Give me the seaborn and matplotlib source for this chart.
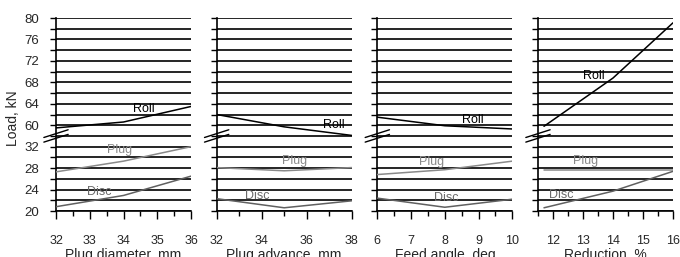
import matplotlib
matplotlib.use("Agg")
import matplotlib.pyplot as plt
from matplotlib.ticker import FixedLocator, FixedFormatter, MultipleLocator
import numpy as np
import pandas as pd
import seaborn as sns

# plug diameter, mm
dia_x = [32, 34, 36]
dia_roll = [59.5, 60.6, 63.5]
dia_plug = [27.3, 29.3, 32.0]
dia_disc = [20.8, 22.9, 26.5]

# plug advance, mm
adv_x = [32, 35, 38]
adv_roll = [62.0, 59.7, 58.1]
adv_plug = [28.1, 27.5, 28.1]
adv_disc = [22.3, 20.6, 21.9]

# feed angle, deg
ang_x = [6, 8, 10]
ang_roll = [61.5, 59.9, 59.3]
ang_plug = [26.8, 27.7, 29.3]
ang_disc = [22.4, 20.7, 22.2]

# reduction, %
red_x = [11.7, 14, 16]
red_roll = [59.8, 68.8, 79.1]
red_plug = [27.6, 27.6, 27.6]
red_disc = [20.6, 23.7, 27.4]

y_major = [20, 24, 28, 32, 60, 64, 68, 72, 76, 80]
y_minor = [22, 26, 30, 34, 62, 66, 70, 74, 78]

panels = [
    ("Plug diameter, mm", dia_x, dia_roll, dia_plug, dia_disc),
    ("Plug advance, mm", adv_x, adv_roll, adv_plug, adv_disc),
    ("Feed angle, deg", ang_x, ang_roll, ang_plug, ang_disc),
    ("Reduction, %", red_x, red_roll, red_plug, red_disc),
]
xlims = [(32, 36), (32, 38), (6, 10), (11.5, 16)]
xmajor = [1, 2, 1, 1]
xminor = [0.5, 1, 0.5, 0.5]
# label positions (x, y) for Roll, Plug, Disc
label_pos = [
    [(34.6, 63.0), (33.87, 31.3), (33.27, 23.5)],
    [(37.2, 60.0), (35.45, 29.4), (33.8, 22.8)],
    [(8.82, 61.0), (7.6, 29.1), (8.03, 22.4)],
    [(13.36, 69.1), (13.08, 29.4), (12.28, 23.0)],
]

colors = {"Roll": "black", "Plug": "#8a8a8a", "Disc": "#606060"}
text_colors = {"Roll": "black", "Plug": "#8a8a8a", "Disc": "#6a6a6a"}


# broken y axis: 34..58 kN squeezed out
def fwd(y):
    y = np.asarray(y, dtype=float)
    return np.where(y <= 34, y, np.where(y >= 58, y - 24, 34.0))


def inv(v):
    v = np.asarray(v, dtype=float)
    return np.where(v <= 34, v, v + 24)


sns.set_style("ticks")
plt.rcParams["font.family"] = ["Liberation Sans", "DejaVu Sans"]

fig, axes = plt.subplots(1, 4, figsize=(6.8, 2.57), dpi=100, sharey=True)
fig.subplots_adjust(left=56 / 680, right=673 / 680, bottom=1 - 211 / 257,
                    top=1 - 18 / 257, wspace=0.19)

for i, (ax, (xlabel, x, roll, plug, disc)) in enumerate(zip(axes, panels)):
    df = pd.DataFrame({
        "x": list(x) * 3,
        "load": list(roll) + list(plug) + list(disc),
        "series": ["Roll"] * len(x) + ["Plug"] * len(x) + ["Disc"] * len(x),
    })
    sns.lineplot(data=df, x="x", y="load", hue="series", palette=colors,
                 legend=False, ax=ax, linewidth=1.1, zorder=3)
    for name, (tx, ty) in zip(["Roll", "Plug", "Disc"], label_pos[i]):
        ax.text(tx, ty, name, ha="center", va="center", fontsize=9,
                color=text_colors[name], zorder=4)

    ax.set_yscale("function", functions=(fwd, inv))
    ax.set_xlim(*xlims[i])
    ax.xaxis.set_major_locator(MultipleLocator(xmajor[i]))
    ax.xaxis.set_minor_locator(MultipleLocator(xminor[i]))
    ax.set_xlabel(xlabel, fontsize=10, labelpad=1)
    ax.set_ylabel("")
    ax.tick_params(axis="x", which="major", direction="out", length=6,
                   width=1, color="black", pad=11, labelsize=9)
    ax.tick_params(axis="x", which="minor", direction="out", length=3.5,
                   width=1, color="black")
    ax.tick_params(axis="y", which="both", direction="out", length=4,
                   width=1, color="black", pad=8, labelsize=9.5)
    ax.grid(True, axis="y", which="both", color="black", linewidth=1.2)
    ax.grid(False, axis="x", which="both")
    sns.despine(ax=ax)
    for s in ("left", "bottom"):
        ax.spines[s].set_color("black")
        ax.spines[s].set_linewidth(1.2)

    # break marks on the left spine
    by = (34 - 20) / 36
    for dy in (-0.012, 0.012):
        ax.plot([-0.09, 0.09], [by - 0.02 + dy, by + 0.02 + dy],
                transform=ax.transAxes, color="black", lw=1, clip_on=False,
                zorder=5)

ax0 = axes[0]
ax0.yaxis.set_major_locator(FixedLocator(y_major))
ax0.yaxis.set_major_formatter(FixedFormatter([str(v) for v in y_major]))
ax0.yaxis.set_minor_locator(FixedLocator(y_minor))
ax0.set_ylim(20, 80)
ax0.set_ylabel("Load, kN", fontsize=10)
ax0.yaxis.set_label_coords(-0.27, 0.482)

fig.savefig("out.png", dpi=100)
